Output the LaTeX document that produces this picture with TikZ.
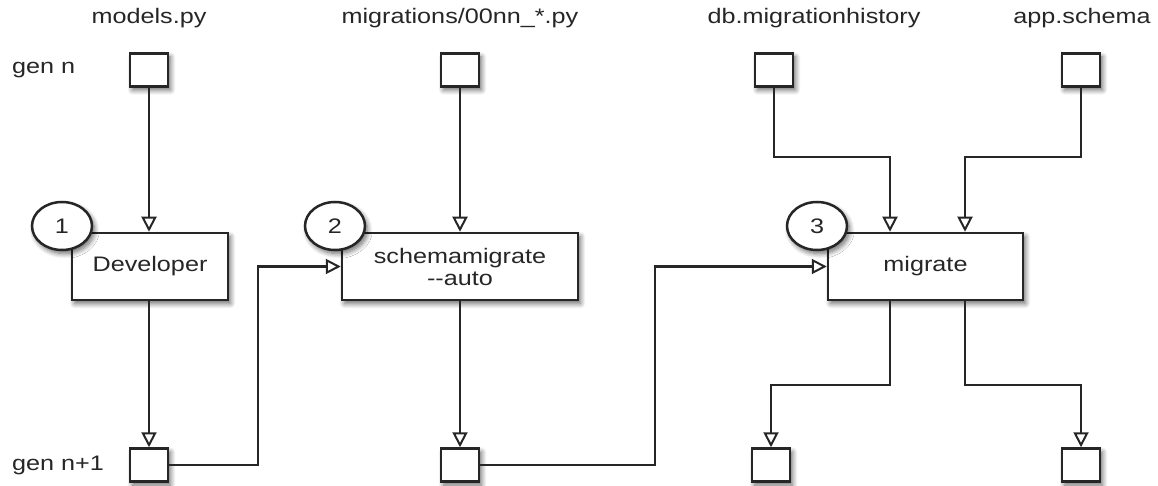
\documentclass[tikz,border=0pt]{standalone}
\usepackage{fontspec}
\setmainfont{Liberation Sans}[FakeStretch=1.2]
\usetikzlibrary{arrows.meta,shapes.geometric,shadows.blur}
\definecolor{ink}{HTML}{262626}
\tikzset{
  shd/.style={blur shadow={shadow blur steps=8, shadow xshift=2.5pt, shadow yshift=-3.5pt, shadow opacity=60, shadow blur radius=5pt}},
  smallbox/.style={draw=ink, line width=2.5pt, fill=white, minimum width=38pt, minimum height=33pt, inner sep=0pt, shd},
  procbox/.style={draw=ink, line width=2.5pt, fill=white, minimum height=67pt, inner sep=2pt, align=center, text=ink, font=\fontsize{21}{23}\selectfont, shd},
  numell/.style={ellipse, draw=ink, line width=2.5pt, fill=white, minimum width=60pt, minimum height=48pt, inner sep=0pt, text=ink, font=\fontsize{21}{23}\selectfont, shd},
  lbl/.style={text=ink, font=\fontsize{21}{23}\selectfont, inner sep=0pt},
  conn/.style={draw=ink, line width=2.2pt},
  arr/.style={conn, -{Triangle[open, width=15pt, length=15pt, line width=2pt]}}
}
\begin{document}
\begin{tikzpicture}[x=1pt, y=-1pt]
\useasboundingbox (0,0) rectangle (1158,486);
% labels
\node[lbl] (lmodels) at (149,18) {models.py};
\node[lbl] (lmig) at (460,18) {migrations/00nn\_*.py};
\node[lbl] (ldb) at (814,18) {db.migrationhistory};
\node[lbl] (lapp) at (1082,18) {app.schema};
\node[lbl, anchor=west] (lgenn) at (12,70) {gen n};
\node[lbl, anchor=west] (lgenn1) at (12,465) {gen n+1};
% small boxes
\node[smallbox] (m0) at (149,70) {};
\node[smallbox] (mig0) at (460,70) {};
\node[smallbox] (db0) at (774,70) {};
\node[smallbox] (app0) at (1081,70) {};
\node[smallbox] (m1) at (149,465) {};
\node[smallbox] (mig1) at (460,465) {};
\node[smallbox] (db1) at (771,465) {};
\node[smallbox] (app1) at (1081,465) {};
% process boxes
\node[procbox, minimum width=156pt] (dev) at (150,266.5) {Developer};
\node[procbox, minimum width=236pt] (sm) at (460,266.5) {schemamigrate\\[-1pt]-{}-auto};
\node[procbox, minimum width=195pt] (mg) at (925.5,266.5) {migrate};
% number ellipses
\node[numell] (n1) at (62,226) {1};
\node[numell] (n2) at (335,226) {2};
\node[numell] (n3) at (817,226) {3};
% helper coordinates
\coordinate (c1) at (258,0);
\coordinate (c2) at (655,0);
\coordinate (c3) at (890,157);
\coordinate (c4) at (965,157);
\coordinate (c5) at (890,385);
\coordinate (c6) at (965,385);
% connectors
\draw[arr] (m0.south) -- (m0.south |- dev.north);
\draw[arr] (mig0.south) -- (mig0.south |- sm.north);
\draw[arr] (m0.south |- dev.south) -- (m1.north);
\draw[arr] (sm.south) -- (mig1.north);
\draw[arr] (m1.east) -| (c1 |- sm.west) -- (sm.west);
\draw[arr] (mig1.east) -| (c2 |- mg.west) -- (mg.west);
\draw[arr] (db0.south) |- (c3) -- (c3 |- mg.north);
\draw[arr] (app0.south) |- (c4) -- (c4 |- mg.north);
\draw[arr] (c3 |- mg.south) -- (c5) -| (db1.north);
\draw[arr] (c4 |- mg.south) -- (c6) -| (app1.north);
\end{tikzpicture}
\end{document}
